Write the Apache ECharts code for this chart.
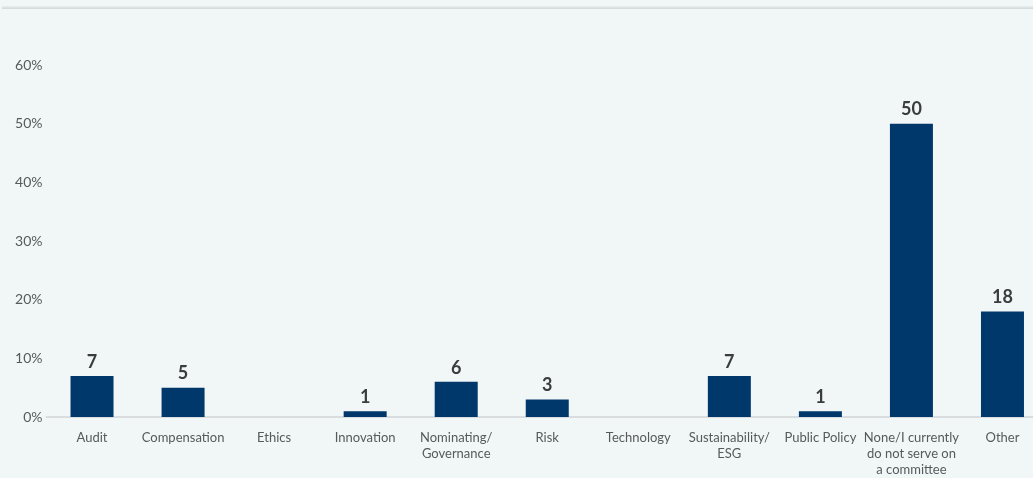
<!DOCTYPE html>
<html>
<head>
<meta charset="utf-8">
<script src="https://cdn.jsdelivr.net/npm/echarts@6/dist/echarts.min.js"></script>
<style>
  html, body { margin: 0; padding: 0; background: #f1f6f6; overflow: hidden; }
  #topRule { position: absolute; left: 2px; right: 0; top: 6px; height: 3px;
             background: linear-gradient(#e9eded, #d3d8d9); }
  /* the chart runs slightly past the right edge of the window */
  #chart { width: 1048px; height: 478px; }
</style>
</head>
<body>
<div id="topRule"></div>
<div id="chart"></div>
<script>
// Committee membership categories and response shares (percent)
const categories = [
  'Audit', 'Compensation', 'Ethics', 'Innovation', 'Nominating/\nGovernance',
  'Risk', 'Technology', 'Sustainability/\nESG', 'Public Policy',
  'None/I currently\ndo not serve on\na committee', 'Other'
];
const shares = [7, 5, 0, 1, 6, 3, 0, 7, 1, 50, 18];
const yTicks = { min: 0, max: 60, interval: 10 };

const chart = echarts.init(document.getElementById('chart'));
chart.setOption({
  backgroundColor: 'transparent',
  animation: false,
  grid: { left: 46.5, top: 65, bottom: 61, right: 0, containLabel: false },
  xAxis: {
    type: 'category',
    data: categories,
    axisLine: { lineStyle: { color: '#d9dddf', width: 2 } },
    axisTick: { show: false },
    axisLabel: {
      interval: 0, margin: 13, color: '#555a5d',
      fontFamily: 'Lato', fontSize: 13, lineHeight: 16
    }
  },
  yAxis: {
    type: 'value',
    min: yTicks.min, max: yTicks.max, interval: yTicks.interval,
    splitLine: { show: false },
    axisLine: { show: false },
    axisTick: { show: false },
    axisLabel: {
      formatter: '{value}%', color: '#555a5d', margin: 4,
      fontFamily: 'Lato', fontSize: 14
    }
  },
  series: [{
    type: 'bar',
    data: shares.map(v => (v === 0 ? null : v)),
    barWidth: 43,
    itemStyle: { color: '#00386c' },
    label: {
      show: true, position: 'top', distance: 5,
      color: '#3a3d40', fontFamily: 'Lato', fontWeight: 'bold', fontSize: 18
    }
  }]
});
</script>
</body>
</html>
